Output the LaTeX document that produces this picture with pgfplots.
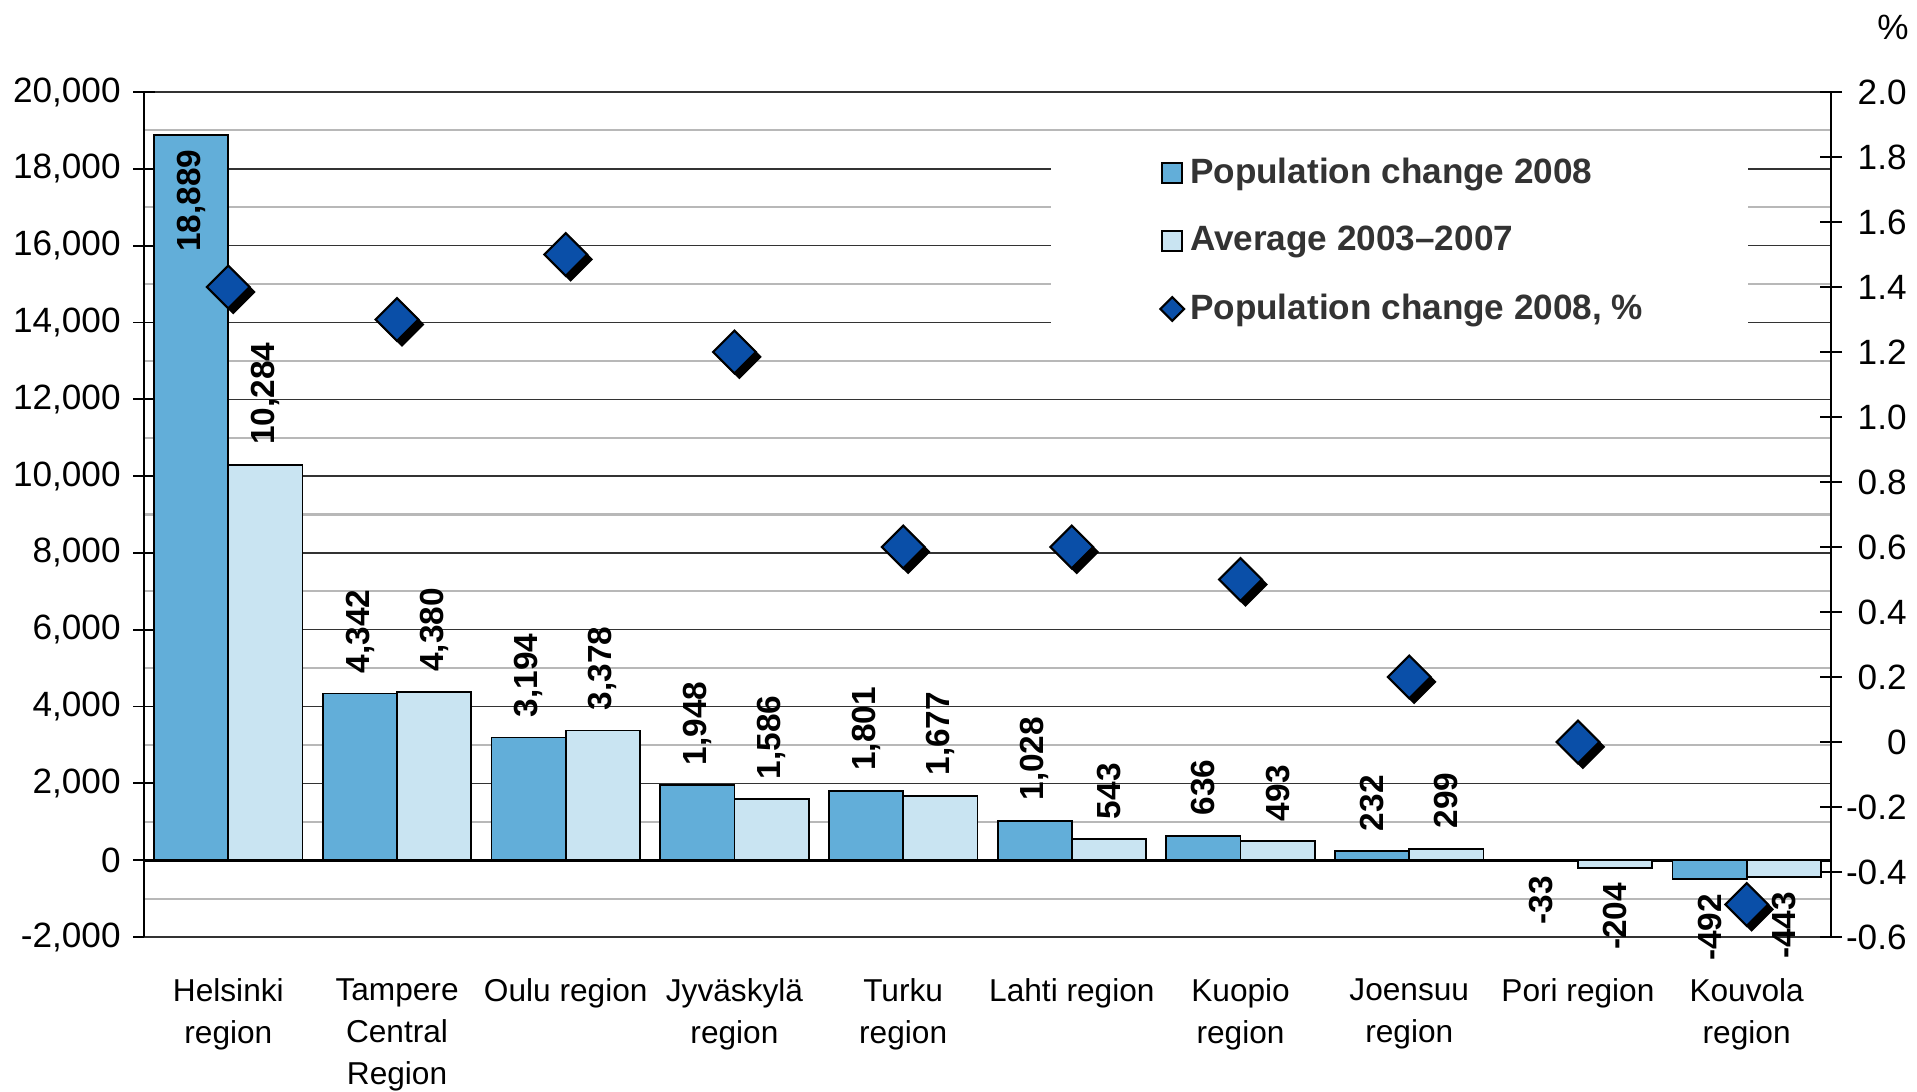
\documentclass[border=0pt]{standalone}
\usepackage{fontspec}
\setmainfont{Liberation Sans}
\usepackage{pgfplots}
\pgfplotsset{compat=1.18}
\definecolor{barA}{HTML}{62AED9}
\definecolor{barB}{HTML}{C9E4F2}
\definecolor{dia}{HTML}{0A4FA8}
\definecolor{legtxt}{HTML}{333333}
\pgfplotsset{
  barsty/.style={ybar, bar width=0.44, draw=black, line width=0.5pt},
  lblup/.style={nodes near coords, nodes near coords style={xshift=#1, rotate=90, anchor=west, text=black, font=\bfseries\fontsize{9.5}{11}\selectfont, inner xsep=5.5pt}},
  lbldown/.style={nodes near coords, nodes near coords style={xshift=#1, rotate=90, anchor=east, text=black, font=\bfseries\fontsize{9.5}{11}\selectfont, inner xsep=4pt}},
  sqlegend/.style={legend image code/.code={\draw[##1] (0cm,-0.1cm) rectangle (0.2cm,0.1cm);}},
  dialegend/.style={legend image code/.code={\draw[##1, mark size=2.4pt] plot coordinates {(0.1cm,0cm)};}},
}
\begin{document}
\begin{tikzpicture}
\path[use as bounding box] (0,0) rectangle (19.17cm,10.91cm);
\begin{axis}[
  at={(1.44cm,1.54cm)}, anchor=south west,
  width=16.87cm, height=8.45cm, scale only axis,
  xmin=-0.5, xmax=9.5, ymin=-2000, ymax=20000,
  axis y line*=left, axis x line*=bottom,
  xtick={0,...,9},
  xticklabels={{Helsinki\\region},{Tampere\\Central\\Region},{Oulu region},{Jyväskylä\\region},{Turku\\region},{Lahti region},{Kuopio\\region},{Joensuu\\region},{Pori region},{Kouvola\\region}},
  xticklabel style={align=center, font=\fontsize{9}{12}\selectfont, yshift=-1.8mm},
  x tick style={draw=none},
  ytick={-2000,0,...,20000},
  minor ytick={-1000,1000,...,19000},
  scaled y ticks=false,
  ymajorgrids, yminorgrids,
  major grid style={black!80, line width=0.4pt},
  minor grid style={black!28, line width=0.6pt},
  minor y tick style={draw=none},
  tick align=center, major tick length=0.22cm,
  y tick style={black, line width=0.5pt},
  y axis line style={black, line width=0.6pt},
  x axis line style={black!80, line width=0.4pt},
  yticklabel style={font=\fontsize{10}{12}\selectfont},
  /pgf/number format/1000 sep={,},
  /pgf/number format/assume math mode=true,
  extra y ticks={0}, extra y tick labels={},
  extra y tick style={major grid style={black, line width=0.9pt}},
  clip=false,
]
\fill[white] (rel axis cs:0.5376,0.93) rectangle (rel axis cs:0.9508,0.70);
% Population change 2008
\addplot[barsty, fill=barA, bar shift=-0.22, lblup=-3.71mm] coordinates {(1,4342) (2,3194) (3,1948) (4,1801) (5,1028) (6,636) (7,232)};
\addplot[barsty, fill=barA, bar shift=-0.22, lbldown=-3.71mm] coordinates {(0,18889)};
\addplot[barsty, fill=barA, bar shift=-0.22, lbldown=-3.71mm] coordinates {(8,-33) (9,-492)};
% Average 2003-2007
\addplot[barsty, fill=barB, bar shift=0.22, lblup=3.71mm] coordinates {(0,10284) (1,4380) (2,3378) (3,1586) (4,1677) (5,543) (6,493) (7,299)};
\addplot[barsty, fill=barB, bar shift=0.22, lbldown=3.71mm] coordinates {(8,-204) (9,-443)};
\end{axis}
\begin{axis}[
  at={(1.44cm,1.54cm)}, anchor=south west,
  width=16.87cm, height=8.45cm, scale only axis,
  xmin=-0.5, xmax=9.5, ymin=-0.6, ymax=2.0,
  axis y line*=right, axis x line=none,
  ytick={-0.6,-0.4,-0.2,0,0.2,0.4,0.6,0.8,1.0,1.2,1.4,1.6,1.8,2.0},
  yticklabels={-0.6,-0.4,-0.2,0,0.2,0.4,0.6,0.8,1.0,1.2,1.4,1.6,1.8,2.0},
  yticklabel style={font=\fontsize{10}{12}\selectfont, anchor=east, xshift=7.7mm},
  tick align=center, major tick length=0.22cm,
  y tick style={black, line width=0.5pt},
  y axis line style={black, line width=0.6pt},
  clip=false,
  legend cell align=left,
  legend style={at={(rel axis cs:0.602,0.930)}, anchor=north west, draw=none, fill=none,
    font=\bfseries\fontsize{10}{12}\selectfont, text=legtxt, inner sep=0pt, row sep=7.3pt,
    nodes={inner sep=1.7pt}},
]
\addlegendimage{sqlegend, fill=barA, draw=black, line width=0.5pt}
\addlegendentry{Population change 2008}
\addlegendimage{sqlegend, fill=barB, draw=black, line width=0.5pt}
\addlegendentry{Average 2003–2007}
\addplot[only marks, mark=square*, mark size=4.3pt, forget plot,
  mark options={xshift=1.4pt, yshift=-1.4pt, rotate=45, fill=black, draw=black}]
  coordinates {(0,1.4) (1,1.3) (2,1.5) (3,1.2) (4,0.6) (5,0.6) (6,0.5) (7,0.2) (8,0.0) (9,-0.5)};
\addplot[only marks, mark=square*, mark size=4.3pt, dialegend,
  mark options={rotate=45, fill=dia, draw=black, line width=0.6pt}]
  coordinates {(0,1.4) (1,1.3) (2,1.5) (3,1.2) (4,0.6) (5,0.6) (6,0.5) (7,0.2) (8,0.0) (9,-0.5)};
\addlegendentry{Population change 2008, \%}
\end{axis}
\node[font=\fontsize{10}{12}\selectfont] at (18.93cm,10.64cm) {\%};
\end{tikzpicture}
\end{document}
